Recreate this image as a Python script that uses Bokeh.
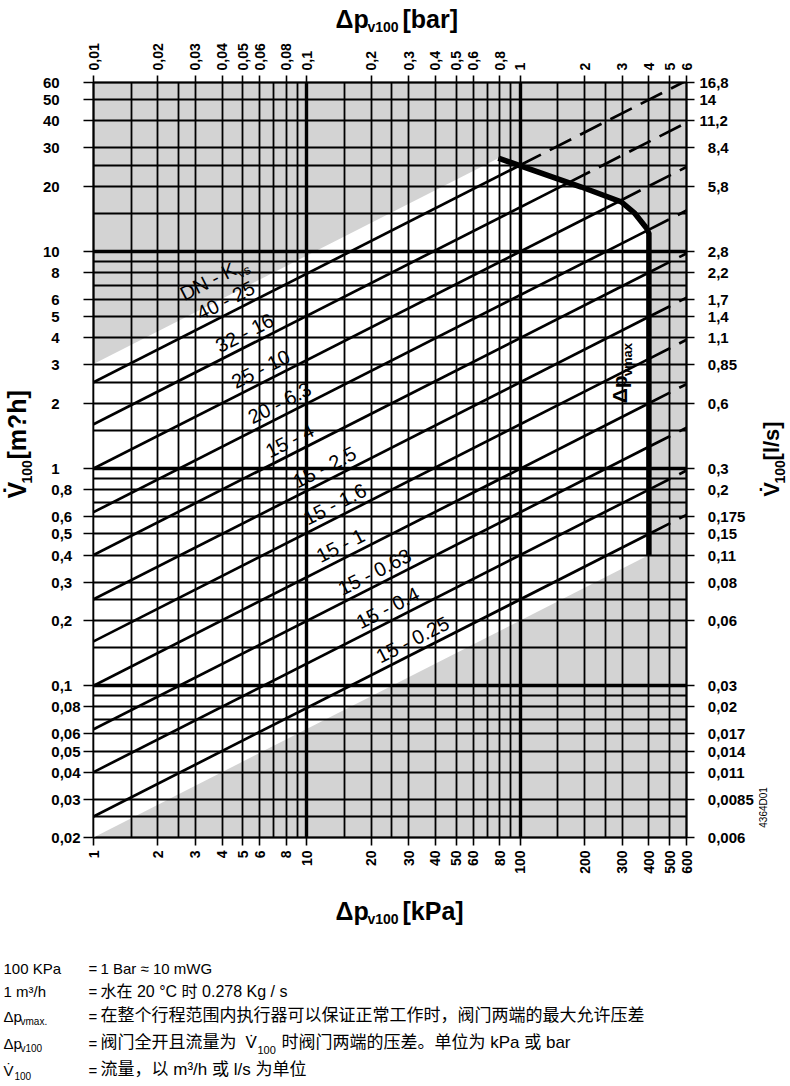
import math
from bokeh.plotting import figure
from bokeh.layouts import column, row
from bokeh.models import FixedTicker, LogAxis, CustomJSTickFormatter, Grid, ColumnDataSource
from bokeh.core.properties import value
from bokeh.embed import file_html
from bokeh.resources import INLINE

# ---------------- data ----------------
dn = [40, 32, 25, 20, 15, 15, 15, 15, 15, 15, 15]
kvs = [25, 16, 10, 6.3, 4, 2.5, 1.6, 1, 0.63, 0.4, 0.25]
kvs_text = ["25", "16", "10", "6.3", "4", "2.5", "1.6", "1", "0.63", "0.4", "0.25"]
label_dp_kpa = [4.43, 5.44, 6.47, 7.94, 8.84, 12.9, 14.4, 15.3, 22.1, 25.5, 33.3]

dpvmax_kpa = [78.8, 193, 297, 343, 390, 400, 400]
dpvmax_flow = [26.9, 19.8, 16.9, 15.0, 12.8, 12.1, 0.40]

white_lower_kvs = 0.2

kpa_ticks = [1, 2, 3, 4, 5, 6, 8, 10, 20, 30, 40, 50, 60, 80, 100, 200, 300, 400, 500, 600]
flow_ticks = [60, 50, 40, 30, 20, 10, 8, 6, 5, 4, 3, 2, 1, 0.8, 0.6, 0.5, 0.4, 0.3, 0.2,
              0.1, 0.08, 0.06, 0.05, 0.04, 0.03, 0.02]
flow_ticks_ls = ["16,8", "14", "11,2", "8,4", "5,8", "2,8", "2,2", "1,7", "1,4", "1,1", "0,85",
                 "0,6", "0,3", "0,2", "0,175", "0,15", "0,11", "0,08", "0,06", "0,03", "0,02",
                 "0,017", "0,014", "0,011", "0,0085", "0,006"]
grid_mantissa = [1, 1.5, 2, 2.5, 3, 4, 5, 6, 7, 8, 9]
x_grid = [m * d for d in (1, 10, 100) for m in grid_mantissa if m * d <= 600]
y_grid = [m * d for d in (0.01, 0.1, 1, 10) for m in grid_mantissa if 0.02 <= m * d <= 60]
x_major = [10, 100]
y_major = [0.1, 1, 10]

X0, X1 = 1, 600
Y0, Y1 = 0.02, 60

def flow(k, dp):
    return k * math.sqrt(dp / 100.0)

lg = math.log10
cxl = [lg(v) for v in dpvmax_kpa]
cyl = [lg(v) for v in dpvmax_flow]

def cross(k):
    for i in range(len(cxl) - 1):
        xa, ya, xb, yb = cxl[i], cyl[i], cxl[i + 1], cyl[i + 1]
        fa = ya - (lg(k) + 0.5 * (xa - 2))
        fb = yb - (lg(k) + 0.5 * (xb - 2))
        if fa == fb:
            continue
        if (fa >= 0) != (fb >= 0):
            t = fa / (fa - fb)
            return 10 ** (xa + t * (xb - xa))
    return X1

FONT = "Liberation Sans"
CJK = "'Liberation Sans', 'Noto Sans CJK SC'"
DESC = 0.212   # descent (em) below baseline

# ---------------- layout geometry (canvas px) ----------------
W, H = 788, 1084
TOP_H = 36
LEFT_W = 34
RIGHT_W = 30
CH_W = W - LEFT_W - RIGHT_W
FRAME_L, FRAME_R, FRAME_T, FRAME_B = 93, 686, 82, 837
CH_ML = FRAME_L - LEFT_W
CH_MR = (LEFT_W + CH_W) - FRAME_R
CH_MT = FRAME_T - TOP_H
CH_MB = 50
FW, FH = FRAME_R - FRAME_L, FRAME_B - FRAME_T
CH_H = CH_MT + FH + CH_MB
BOT_Y0 = TOP_H + CH_H
BOT_H = H - BOT_Y0

# ---------------- chart ----------------
p = figure(width=CH_W, height=CH_H, x_axis_type="log", y_axis_type="log",
           x_range=(X0, X1), y_range=(Y0, Y1), output_backend="svg",
           toolbar_location=None, min_border_left=CH_ML, min_border_right=CH_MR,
           min_border_top=CH_MT, min_border_bottom=CH_MB,
           background_fill_color="#d3d3d3", border_fill_color="white",
           outline_line_color="black", outline_line_width=2)

def style_axis(ax, size, tick_out, standoff):
    ax.major_tick_line_color = "black"
    ax.major_tick_line_width = 1.6
    ax.major_tick_in = 0
    ax.major_tick_out = tick_out
    ax.minor_tick_line_color = None
    ax.axis_line_color = "black"
    ax.axis_line_width = 1.6
    ax.major_label_text_font = FONT
    ax.major_label_text_font_style = "bold"
    ax.major_label_text_font_size = size
    ax.major_label_text_color = "black"
    ax.major_label_standoff = standoff
    ax.axis_label = None

bx = p.xaxis[0]
bx.ticker = FixedTicker(ticks=kpa_ticks, minor_ticks=[])
bx.formatter = CustomJSTickFormatter(code="return String(parseFloat(tick.toPrecision(6)));")
bx.major_label_orientation = math.pi / 2
style_axis(bx, "14px", 8, 5)

ly = p.yaxis[0]
ly.ticker = FixedTicker(ticks=flow_ticks, minor_ticks=[])
ly.formatter = CustomJSTickFormatter(code="""
const s = String(parseFloat(tick.toPrecision(6)));
const i = s.indexOf('.');
const dec = i < 0 ? 0 : s.length - i - 1;
let out = s.replace('.', ',');
if (dec == 0) { out += '\\u2008\\u2007\\u2007'; }
else if (dec == 1) { out += '\\u2007'; }
return out;
""")
style_axis(ly, "15px", 10, 3)

tx = LogAxis(ticker=FixedTicker(ticks=kpa_ticks, minor_ticks=[]),
             formatter=CustomJSTickFormatter(code="return String(parseFloat((tick/100).toPrecision(6))).replace('.', ',');"))
tx.major_label_orientation = math.pi / 2
style_axis(tx, "14px", 7, 5)
p.add_layout(tx, "above")

ry = LogAxis(ticker=FixedTicker(ticks=flow_ticks, minor_ticks=[]),
             formatter=CustomJSTickFormatter(args=dict(vals=flow_ticks, labs=flow_ticks_ls), code="""
let k = 0; let best = 1e9;
for (let j = 0; j < vals.length; j++) {
  const d = Math.abs(Math.log(vals[j]) - Math.log(tick));
  if (d < best) { best = d; k = j; }
}
let s = labs[k];
if (s.split(',')[0].length == 1) { s = '\\u2007' + s; }
return s;
"""))
style_axis(ry, "15px", 8, 5)
p.add_layout(ry, "right")

p.xgrid.ticker = FixedTicker(ticks=x_grid, minor_ticks=[])
p.ygrid.ticker = FixedTicker(ticks=y_grid, minor_ticks=[])
for g in (p.xgrid[0], p.ygrid[0]):
    g.grid_line_color = "black"
    g.grid_line_width = 1.8
    g.grid_line_alpha = 1.0
p.add_layout(Grid(dimension=0, ticker=FixedTicker(ticks=x_major, minor_ticks=[]),
                  grid_line_color="black", grid_line_width=3.4))
p.add_layout(Grid(dimension=1, ticker=FixedTicker(ticks=y_major, minor_ticks=[]),
                  grid_line_color="black", grid_line_width=3.4))

# unshaded operating band
white_upper_kvs = dpvmax_flow[0] / math.sqrt(dpvmax_kpa[0] / 100.0)
wx = [X0] + dpvmax_kpa + [X0]
wy = [flow(white_upper_kvs, X0)] + dpvmax_flow + [flow(white_lower_kvs, X0)]
wr = p.patch(x=wx, y=wy, fill_color="white", line_color=None)
wr.level = "image"

# Kvs lines: solid until dp_vmax, dashed beyond
sx, sy, dx, dy = [], [], [], []
for k in kvs:
    xi = cross(k)
    sx.append([X0, xi]); sy.append([flow(k, X0), flow(k, xi)])
    dx.append([xi, X1]); dy.append([flow(k, xi), flow(k, X1)])
p.multi_line(sx, sy, line_color="black", line_width=2.7)
p.multi_line(dx, dy, line_color="black", line_width=2.7, line_dash="24 10")

p.line(dpvmax_kpa, dpvmax_flow, line_color="black", line_width=5.5, line_join="miter")

# line labels
ang = math.atan(0.5 * (FH / lg(Y1 / Y0)) / (FW / lg(X1 / X0)))
gap = 2.0
ox, oy = -gap * math.sin(ang), -gap * math.cos(ang)
lab = ColumnDataSource(dict(
    x=label_dp_kpa,
    y=[flow(k, x) for k, x in zip(kvs, label_dp_kpa)],
    text=[f"{d} - {t}" for d, t in zip(dn, kvs_text)]))
p.text(x="x", y="y", text="text", source=lab, angle=ang, text_align="center",
       text_baseline="bottom", text_font=value(FONT), text_font_size="20px",
       text_color="black", x_offset=ox, y_offset=oy)

perp = 25.0
hx0 = ox - perp * math.sin(ang)
hy0 = oy - perp * math.cos(ang)
w_main, w_sub = 60.0, 14.0
start = -(w_main + w_sub) / 2
ca, sa = math.cos(ang), math.sin(ang)
p.text(x=[label_dp_kpa[0]], y=[flow(kvs[0], label_dp_kpa[0])], text=["DN - K"], angle=ang,
       text_align="left", text_baseline="bottom", text_font=value(FONT), text_font_size="20px",
       text_color="black", x_offset=hx0 + start * ca, y_offset=hy0 - start * sa)
sub_shift = 4.0
p.text(x=[label_dp_kpa[0]], y=[flow(kvs[0], label_dp_kpa[0])], text=["vs"], angle=ang,
       text_align="left", text_baseline="bottom", text_font=value(FONT), text_font_size="13px",
       text_color="black",
       x_offset=hx0 + (start + w_main) * ca + sub_shift * sa,
       y_offset=hy0 - (start + w_main) * sa + sub_shift * ca)

# dp_vmax label (vertical, reads upwards); baseline just left of the limit line
vm_x, vm_y = dpvmax_kpa[-1], 2.0
p.text(x=[vm_x], y=[vm_y], text=["Δp"], angle=math.pi / 2, text_align="left",
       text_baseline="bottom", text_font=value(FONT), text_font_style="bold",
       text_font_size="21px", text_color="black", x_offset=-22 + DESC * 21, y_offset=0)
p.text(x=[vm_x], y=[vm_y], text=["vmax"], angle=math.pi / 2, text_align="left",
       text_baseline="bottom", text_font=value(FONT), text_font_style="bold",
       text_font_size="13px", text_color="black", x_offset=-17 + DESC * 13, y_offset=-27)

# ---------------- text strips ----------------
def strip(w, h):
    f = figure(width=w, height=h, x_range=(0, w), y_range=(0, h), output_backend="svg",
               toolbar_location=None, min_border=0, x_axis_location=None, y_axis_location=None,
               outline_line_color=None, background_fill_color="white", border_fill_color="white")
    for g in f.grid:
        g.visible = False
    return f

top = strip(W, TOP_H)
left = strip(LEFT_W, CH_H)
right = strip(RIGHT_W, CH_H)
bot = strip(W, BOT_H)

ORIG = {id(top): (0, 0), id(left): (0, TOP_H), id(right): (LEFT_W + CH_W, TOP_H), id(bot): (0, BOT_Y0)}

def put(f, cx, cy, text, size, bold=True, angle=0.0, font=FONT):
    """cx, cy: canvas position of the text start on its baseline."""
    x0, y0 = ORIG[id(f)]
    d = DESC * size
    if angle == 0.0:
        ax, ay = cx, cy + d
    else:
        ax, ay = cx + d, cy
    f.text(x=[ax - x0], y=[f.height - (ay - y0)], text=[text], angle=angle, text_align="left",
           text_baseline="bottom", text_font=value(font), text_font_size=f"{size}px",
           text_font_style="bold" if bold else "normal", text_color="black")

V = "V\u0307"
# top title
put(top, 335, 27, "Δp", 25); put(top, 367, 32, "v100", 14); put(top, 402, 27, "[bar]", 25)
# left title (reads upwards)
put(left, 25, 505, V, 25, angle=math.pi / 2); put(left, 29, 488, "100", 14, angle=math.pi / 2)
put(left, 25, 461, "[m?h]", 25, angle=math.pi / 2)
# right title
put(right, 779, 503, V, 22, angle=math.pi / 2); put(right, 782, 488, "100", 14, angle=math.pi / 2)
put(right, 779, 462, "[l/s]", 22, angle=math.pi / 2)
put(right, 766, 876, "4364D01", 10, bold=False, angle=math.pi / 2)
# bottom title
put(bot, 335, 919, "Δp", 25); put(bot, 367, 924, "v100", 14); put(bot, 402, 919, "[kPa]", 25)

# notes
rows = [973, 996, 1021, 1048, 1075]
put(bot, 3, rows[0], "100 KPa", 15, bold=False)
put(bot, 88, rows[0], "=", 15, bold=False)
put(bot, 100, rows[0], "1 Bar  ≈  10 mWG", 15, bold=False)

put(bot, 3, rows[1], "1 m³/h", 15, bold=False)
put(bot, 88, rows[1], "=", 15, bold=False)
put(bot, 100, rows[1], "水在 20 °C 时 0.278 Kg / s", 16, bold=False, font=CJK)

put(bot, 3, rows[2], "Δp", 15, bold=False); put(bot, 20, rows[2] + 3, "vmax.", 10, bold=False)
put(bot, 88, rows[2], "=", 15, bold=False)
put(bot, 100, rows[2], "在整个行程范围内执行器可以保证正常工作时，阀门两端的最大允许压差", 17, bold=False, font=CJK)

put(bot, 3, rows[3], "Δp", 15, bold=False); put(bot, 20, rows[3] + 3, "v100", 10, bold=False)
put(bot, 88, rows[3], "=", 15, bold=False)
put(bot, 100, rows[3], "阀门全开且流量为", 17, bold=False, font=CJK)
put(bot, 245, rows[3], V, 17, bold=False); put(bot, 257, rows[3] + 3, "100", 11, bold=False)
put(bot, 281, rows[3], "时阀门两端的压差。单位为 kPa 或   bar", 17, bold=False, font=CJK)

put(bot, 3, rows[4], V, 15, bold=False); put(bot, 14, rows[4] + 2, "100", 10, bold=False)
put(bot, 88, rows[4], "=", 15, bold=False)
put(bot, 100, rows[4], "流量，以 m³/h 或 l/s 为单位", 17, bold=False, font=CJK)

layout = column(top, row(left, p, right), bot)
open("out.html", "w").write(file_html(layout, INLINE))
